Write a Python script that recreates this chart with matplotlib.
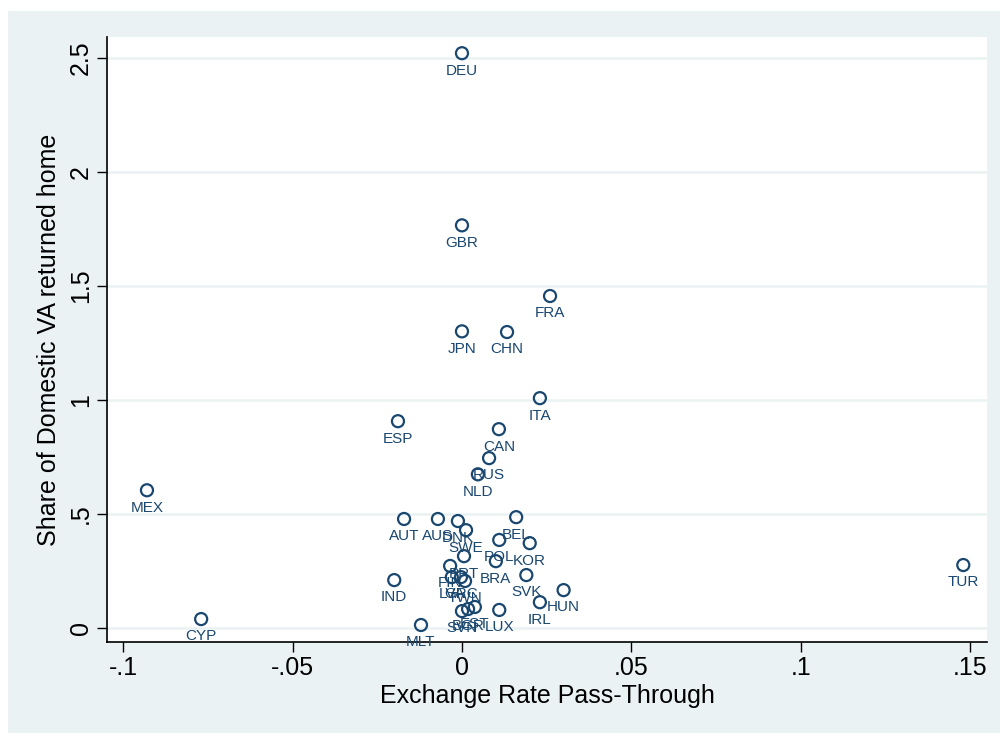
import matplotlib.pyplot as plt
from matplotlib.patches import Rectangle

plt.rcParams['font.family'] = ['Liberation Sans', 'DejaVu Sans']

# values
countries = ["DEU", "GBR", "FRA", "JPN", "CHN", "ITA", "ESP", "CAN", "RUS", "NLD",
             "MEX", "TUR", "CYP", "MLT", "IND", "AUT", "AUS", "DNK", "SWE", "BEL",
             "POL", "KOR", "PRT", "BRA", "FIN", "LVA", "GRC", "TWN", "SVK", "HUN",
             "IRL", "LUX", "SVN", "BGR", "EST"]
erpt = [0.0, 0.0, 0.026, 0.0, 0.0133, 0.023, -0.0189, 0.0109, 0.008, 0.0047,
        -0.093, 0.148, -0.077, -0.0121, -0.020, -0.0171, -0.0071, -0.0012, 0.0012, 0.016,
        0.011, 0.020, 0.0006, 0.010, -0.0035, -0.003, -0.0003, 0.0009, 0.019, 0.030,
        0.023, 0.011, 0.0, 0.0018, 0.0038]
share = [2.52, 1.765, 1.455, 1.30, 1.297, 1.007, 0.906, 0.871, 0.744, 0.673,
         0.603, 0.275, 0.038, 0.012, 0.209, 0.477, 0.477, 0.468, 0.428, 0.485,
         0.385, 0.371, 0.314, 0.292, 0.271, 0.222, 0.222, 0.205, 0.231, 0.165,
         0.112, 0.078, 0.073, 0.082, 0.091]

xticks = [-0.1, -0.05, 0, 0.05, 0.1, 0.15]
xticklabels = ["-.1", "-.05", "0", ".05", ".1", ".15"]
yticks = [0, 0.5, 1, 1.5, 2, 2.5]
yticklabels = ["0", ".5", "1", "1.5", "2", "2.5"]

navy = '#1a476f'
bg = '#eaf2f3'

fig = plt.figure(figsize=(10, 7.33), dpi=100, facecolor='white')
fig.patches.append(Rectangle((0.008, 0), 0.992, 1 - 11 / 733, transform=fig.transFigure,
                             facecolor=bg, edgecolor='none', zorder=-10))
ax = fig.add_axes([0.107, 0.1241, 0.88, 0.8254])
ax.set_facecolor('white')

ax.scatter(erpt, share, s=75, facecolors='none', edgecolors=navy, linewidths=1.6, zorder=3)
for name, x, y in zip(countries, erpt, share):
    ax.annotate(name, (x, y), xytext=(0, -12.5), textcoords='offset points',
                ha='center', va='center', fontsize=11, color=navy, zorder=4)

ax.set_xlim(-0.1048, 0.155)
ax.set_ylim(-0.0627, 2.591)

ax.set_xticks(xticks)
ax.set_xticklabels(xticklabels)
ax.set_yticks(yticks)
ax.set_yticklabels(yticklabels, rotation=90, va='center')
ax.tick_params(direction='out', length=7, width=1, labelsize=18, color='black', pad=3)

ax.grid(axis='y', color=bg, linewidth=1.8)
ax.set_axisbelow(True)
for side in ['top', 'right']:
    ax.spines[side].set_visible(False)
for side in ['left', 'bottom']:
    ax.spines[side].set_linewidth(1.2)

ax.set_xlabel('Exchange Rate Pass-Through', fontsize=18, labelpad=3)
ax.set_ylabel('Share of Domestic VA returned home', fontsize=18, labelpad=6)

fig.savefig('out.png', dpi=100, facecolor='white')
